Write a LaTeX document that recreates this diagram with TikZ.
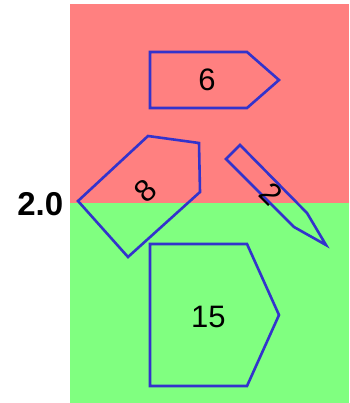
\documentclass[tikz,border=0pt]{standalone}
\usepackage{fontspec}
\setmainfont{Liberation Sans}
\definecolor{zonered}{RGB}{255,128,128}
\definecolor{zonegreen}{RGB}{128,255,128}
\definecolor{edgeblue}{RGB}{51,51,204}

\begin{document}
\begin{tikzpicture}[x=1pt, y=-1pt, every node/.style={font=\fontsize{31}{36}\selectfont, inner sep=0pt}, piece/.style={draw=edgeblue, line width=2.6pt}]
	\useasboundingbox (0,0) rectangle (349,403);
	\fill[zonered] (70,4) rectangle (349,203);
	\fill[zonegreen] (70,203) rectangle (349,403);
	\draw[piece] (150,52) -- (247,52) -- (279,80) -- (247,108) -- (150,108) -- cycle;
	\draw[piece] (148,136) -- (199,143) -- (200,192) -- (128,257) -- (78,201) -- cycle;
	\draw[piece] (240,145) -- (307,213) -- (326,245) -- (294,227) -- (226,159) -- cycle;
	\draw[piece] (150,244) -- (247,244) -- (279,315) -- (247,386) -- (150,386) -- cycle;
	\node (six) at (207,80) {6};
	\node[rotate=43] (eight) at (145.7,191) {8};
	\node[rotate=-45] (two) at (271.7,194) {2};
	\node (fifteen) at (208.3,316.5) {15};
	\node[font=\fontsize{33}{38}\selectfont\bfseries] (level) at (40.3,204) {2.0};
\end{tikzpicture}
\end{document}
